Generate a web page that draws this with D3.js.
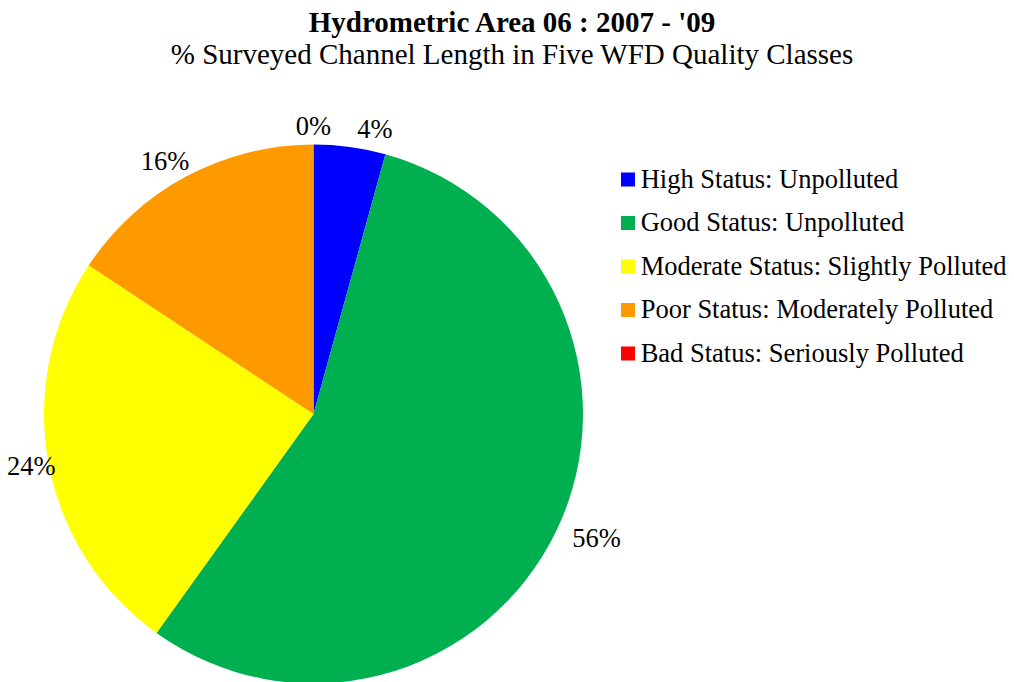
<!DOCTYPE html>
<html>
<head>
<meta charset="utf-8">
<script src="https://cdn.jsdelivr.net/npm/d3@7"></script>
<style>
  body { margin: 0; background: #fff; }
  text { font-family: "Liberation Serif", "Times New Roman", serif; fill: #000; }
</style>
</head>
<body>
<script>
// data
const categories = ["High Status: Unpolluted", "Good Status: Unpolluted", "Moderate Status: Slightly Polluted", "Poor Status: Moderately Polluted", "Bad Status: Seriously Polluted"];
const values = [4.3, 55.6, 24.4, 15.7, 0];
const colors = ["#0000ff", "#00b050", "#ffff00", "#ff9900", "#ff0000"];
const title = "Hydrometric Area 06 : 2007 - '09";
const subtitle = "% Surveyed Channel Length in Five WFD Quality Classes";

const w = 1014;
const h = 682;
const cx = 313.5, cy = 414, r = 269.5;

const svg = d3.select("body")
    .append("svg")
    .attr("width", w)
    .attr("height", h);

// titles
svg.append("text")
    .attr("x", 512).attr("y", 31.5)
    .attr("text-anchor", "middle")
    .style("font-size", "29px")
    .style("font-weight", "bold")
    .text(title);

svg.append("text")
    .attr("x", 512).attr("y", 63.5)
    .attr("text-anchor", "middle")
    .style("font-size", "29px")
    .text(subtitle);

// pie
const pie = d3.pie().sort(null).value(d => d);
const arcs = pie(values);
const arc = d3.arc().innerRadius(0).outerRadius(r);

const g = svg.append("g").attr("transform", "translate(" + cx + "," + cy + ")");

g.selectAll("path")
    .data(arcs)
    .enter()
    .append("path")
    .attr("d", arc)
    .attr("fill", (d, i) => colors[i]);

// labels outside end
const fontSize = 26.5;
const labels = svg.selectAll("text.lbl")
    .data(arcs)
    .enter()
    .append("text")
    .attr("class", "lbl")
    .style("font-size", fontSize + "px")
    .attr("text-anchor", "middle")
    .text(d => Math.round(d.data) + "%");

// place last slice first so the small ones get pushed aside
const placed = [];
labels.nodes().slice().reverse().forEach(function (node) {
    const d = d3.select(node).datum();
    const bb = node.getBBox();
    const a = (d.startAngle + d.endAngle) / 2;
    const s = Math.sin(a), c = -Math.cos(a);
    let x = cx + s * (r + 20 + bb.width / 2);
    let y = cy + c * (r + 3 + bb.height / 2);
    x = Math.max(7 + bb.width / 2, x);
    placed.forEach(function (p) {
        const overlapY = Math.abs(p.y - y) < bb.height;
        const gap = 26;
        if (overlapY && Math.abs(p.x - x) < (p.w + bb.width) / 2 + gap) {
            x = s >= 0 ? p.x + (p.w + bb.width) / 2 + gap : p.x - (p.w + bb.width) / 2 - gap;
        }
    });
    placed.push({ x: x, y: y, w: bb.width });
    d3.select(node)
        .attr("x", x)
        .attr("y", y + fontSize * 0.33);
});

// legend
const legend = svg.append("g").attr("transform", "translate(621,179.5)");
const rows = legend.selectAll("g")
    .data(categories)
    .enter()
    .append("g")
    .attr("transform", (d, i) => "translate(0," + (i * 43.5) + ")");

rows.append("rect")
    .attr("x", 0).attr("y", -7)
    .attr("width", 14).attr("height", 14)
    .attr("fill", (d, i) => colors[i]);

rows.append("text")
    .attr("x", 19.7).attr("y", 8.2)
    .style("font-size", "26.5px")
    .text(d => d);
</script>
</body>
</html>
